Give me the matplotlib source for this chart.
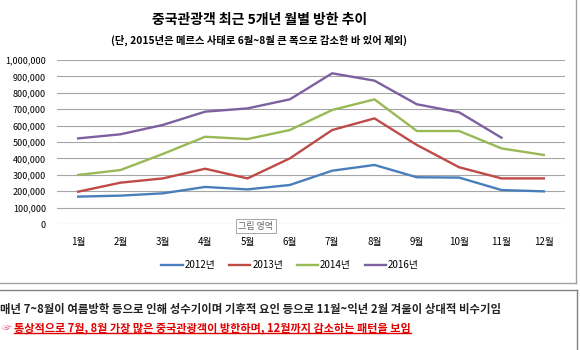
import matplotlib.pyplot as plt
from matplotlib.lines import Line2D

plt.rcParams['font.family'] = ['Noto Sans CJK KR', 'DejaVu Sans']

months = ['1월', '2월', '3월', '4월', '5월', '6월', '7월', '8월', '9월', '10월', '11월', '12월']
v2012 = [167000, 173000, 187000, 226000, 211000, 238000, 325000, 360000, 285000, 283000, 207000, 199000]
v2013 = [197000, 252000, 278000, 337000, 278000, 400000, 573000, 644000, 482000, 346000, 278000, 278000]
v2014 = [299000, 329000, 427000, 532000, 518000, 573000, 695000, 760000, 567000, 567000, 461000, 421000]
v2016 = [522000, 547000, 604000, 685000, 705000, 760000, 919000, 874000, 730000, 681000, 526000]
series = [('2012년', v2012, '#4A7EBB'), ('2013년', v2013, '#BE4B48'),
          ('2014년', v2014, '#98B954'), ('2016년', v2016, '#7D60A0')]

W, H = 580, 350
fig = plt.figure(figsize=(W / 100, H / 100), dpi=100)
fig.patch.set_facecolor('white')

def fx(px):
    return px / W

def fy(py):
    return 1 - py / H

ax = fig.add_axes([fx(57), fy(224), fx(565 - 57), fy(60) - fy(224)])
for name, vals, col in series:
    ax.plot(range(1, len(vals) + 1), vals, color=col, lw=1.7, label=name)

ax.set_xlim(0.5, 12.5)
ax.set_ylim(0, 1000000)
ax.set_yticks(range(0, 1000001, 100000))
ax.set_yticklabels([f'{v:,}' for v in range(0, 1000001, 100000)], fontsize=6.5)
ax.set_xticks(range(1, 13))
ax.set_xticklabels(months, fontsize=7)
ax.tick_params(length=0, pad=8)
ax.tick_params(axis='x', pad=9)
ax.grid(axis='y', color='#A6A6A6', lw=0.8)
ax.set_axisbelow(True)
for s in ax.spines.values():
    s.set_visible(False)

handles = [Line2D([], [], color=c, lw=1.7) for _, _, c in series]
fig.legend(handles, [n for n, _, _ in series], loc='center', bbox_to_anchor=(fx(290), fy(265)),
           ncol=4, frameon=False, fontsize=7, handlelength=2.2, handletextpad=0.2, columnspacing=1.4)

fig.text(fx(260), fy(20), '중국관광객 최근 5개년 월별 방한 추이', ha='center', va='center',
         fontsize=10, fontweight='bold')
fig.text(fx(259), fy(40), '(단, 2015년은 메르스 사태로 6월~8월 큰 폭으로 감소한 바 있어 제외)',
         ha='center', va='center', fontsize=7.4, fontweight='bold')

# excel tooltip
fig.text(fx(256), fy(226), '그림 영역', ha='center', va='center', fontsize=6.5, color='#666666',
         bbox=dict(boxstyle='square,pad=0.3', fc='white', ec='#999999', lw=0.6))

# chart frame and note box
fig.add_artist(Line2D([0, fx(576)], [fy(283), fy(283)], color='#A0A0A0', lw=1))
fig.add_artist(Line2D([fx(576), fx(576)], [fy(283), 1], color='#A0A0A0', lw=1))
fig.add_artist(Line2D([0, fx(577)], [fy(290), fy(290)], color='#808080', lw=1))
fig.add_artist(Line2D([fx(577), fx(577)], [fy(290), 0], color='#808080', lw=1))

fig.text(fx(0), fy(310), '매년 7~8월이 여름방학 등으로 인해 성수기이며 기후적 요인 등으로 11월~익년 2월 겨울이 상대적 비수기임',
         ha='left', va='center', fontsize=8.2, fontweight='bold', color='#222222')
fig.text(fx(2), fy(328), '☞', ha='left', va='center', fontsize=7, color='#E07090')
note = fig.text(fx(14), fy(328), '통상적으로 7월, 8월 가장 많은 중국관광객이 방한하며, 12월까지 감소하는 패턴을 보임',
                ha='left', va='center', fontsize=8, fontweight='bold', color='#E00000')

fig.canvas.draw()
bb = note.get_window_extent().transformed(fig.transFigure.inverted())
fig.add_artist(Line2D([bb.x0, bb.x1], [bb.y0 + 0.004, bb.y0 + 0.004], color='#E00000', lw=1))

fig.savefig('out.png', dpi=100)
